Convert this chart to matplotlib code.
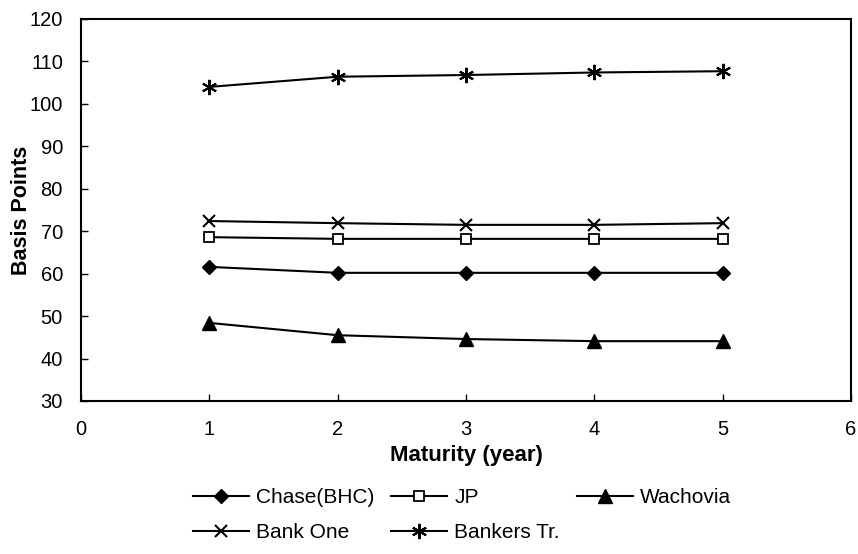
import numpy as np
import matplotlib.pyplot as plt

plt.rcParams['font.family'] = ['Liberation Sans', 'DejaVu Sans']

# maturity in years and spreads in basis points
maturity = [1, 2, 3, 4, 5]
chase = [61.6, 60.2, 60.2, 60.2, 60.2]
jp = [68.6, 68.2, 68.2, 68.2, 68.2]
wachovia = [48.4, 45.5, 44.6, 44.1, 44.1]
bank_one = [72.4, 71.9, 71.5, 71.5, 71.9]
bankers = [104.0, 106.4, 106.8, 107.4, 107.7]

fig = plt.figure(figsize=(8.58, 5.54), dpi=100)
ax = fig.add_axes([81/858, 1 - 401/554, (851-81)/858, (401-19)/554])

ln = dict(color='black', lw=1.5)
h_chase, = ax.plot(maturity, chase, marker='D', ms=7, mfc='black', mec='black', label='Chase(BHC)', **ln)
h_jp, = ax.plot(maturity, jp, marker='s', ms=7.5, mfc='white', mec='black', mew=1.3, label='JP', **ln)
h_wach, = ax.plot(maturity, wachovia, marker='^', ms=10, mfc='black', mec='black', label='Wachovia', **ln)
h_one, = ax.plot(maturity, bank_one, marker='x', ms=9, mew=1.5, label='Bank One', **ln)
h_bt, = ax.plot(maturity, bankers, marker=(6, 2, 0), ms=11, mew=1.5, label='Bankers Tr.', **ln)

ax.set_xlim(0, 6)
ax.set_ylim(30, 120)
ax.set_xticks(range(0, 7))
ax.set_yticks(range(30, 121, 10))
ax.tick_params(direction='in', length=5, width=1, labelsize=14.5)
ax.tick_params(axis='x', pad=14)
ax.tick_params(axis='y', pad=13)
for s in ax.spines.values():
    s.set_linewidth(1.5)

ax.set_xlabel('Maturity (year)', fontsize=16, fontweight='bold', va='top')
ax.xaxis.set_label_coords(0.5, -(445 - 401) / 382)
ax.set_ylabel('Basis Points', fontsize=15.5, fontweight='bold')
ax.yaxis.set_label_coords((32 - 81) / 770, 0.5)

# column-major order so rows read Chase/JP/Wachovia then Bank One/Bankers
handles = [h_chase, h_one, h_jp, h_bt, h_wach]
fig.legend(handles=handles, labels=[h.get_label() for h in handles],
           loc='upper left', bbox_to_anchor=(193/858, 1 - 488/554), ncol=3,
           frameon=False, fontsize=15, handlelength=2.7, handletextpad=0.33,
           columnspacing=0.8, labelspacing=0.78, borderpad=0, borderaxespad=0)

fig.savefig('out.png', dpi=100)
